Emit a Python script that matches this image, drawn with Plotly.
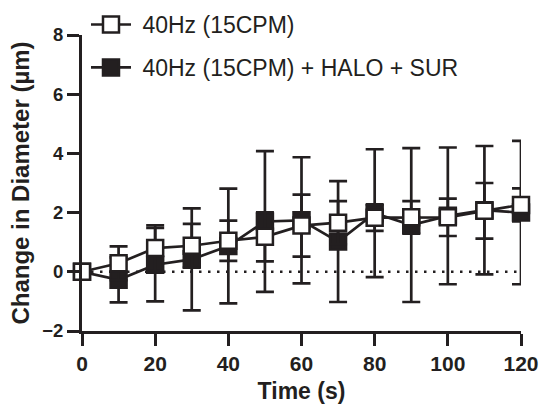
import plotly.graph_objects as go

# tiempos (s)
time_s = [0, 10, 20, 30, 40, 50, 60, 70, 80, 90, 100, 110, 120]

# 40Hz (15CPM)
open_mean = [0, 0.29, 0.80, 0.88, 1.05, 1.18, 1.56, 1.66, 1.83, 1.84, 1.84, 2.06, 2.26]
open_err = [0, 0.57, 0.77, 0.74, 0.68, 0.83, 1.05, 0.73, 0.45, 0.55, 0.63, 0.94, 0.56]

# 40Hz (15CPM) + HALO + SUR
halo_mean = [0, -0.27, 0.24, 0.42, 0.87, 1.70, 1.74, 1.02, 1.98, 1.58, 1.89, 2.08, 2.00]
halo_err = [0, 0.76, 1.24, 1.72, 1.94, 2.38, 2.13, 2.04, 2.16, 2.60, 2.31, 2.17, 2.42]

INK = "#231f20"
FONT = "Liberation Sans"
PAD = "\u00a0"  # separa el texto de la leyenda del simbolo

fig = go.Figure()

# linea de referencia en y = 0
fig.add_trace(go.Scatter(
    x=[time_s[0], time_s[-1]], y=[0, 0],
    mode="lines",
    line=dict(color=INK, width=2.5, dash="2.5px,6.5px"),
    showlegend=False, hoverinfo="skip"
))

fig.add_trace(go.Scatter(
    x=time_s, y=halo_mean,
    mode="lines+markers",
    name=PAD + "40Hz (15CPM) + HALO + SUR",
    legendgroup="b", legendrank=2,
    line=dict(color=INK, width=2.7),
    marker=dict(symbol="square", size=16, color=INK, line=dict(color=INK, width=2.5)),
    error_y=dict(type="data", array=halo_err, color=INK, thickness=2.7, width=9),
    cliponaxis=False
))

fig.add_trace(go.Scatter(
    x=time_s, y=open_mean,
    mode="lines+markers",
    name=PAD + "40Hz (15CPM)",
    legendgroup="a", legendrank=1,
    line=dict(color=INK, width=2.7),
    marker=dict(symbol="square", size=16, color="white", line=dict(color=INK, width=2.5)),
    error_y=dict(type="data", array=open_err, color=INK, thickness=2.7, width=9),
    cliponaxis=False
))

axis_common = dict(
    showline=True, linecolor=INK, linewidth=3,
    ticks="outside", tickcolor=INK, tickwidth=3, ticklen=12,
    showgrid=False, zeroline=False, automargin=False,
)

fig.update_layout(
    width=542, height=408,
    margin=dict(l=82, r=21, t=35, b=77, autoexpand=False),
    plot_bgcolor="white", paper_bgcolor="white",
    font=dict(family=FONT, color=INK),
    xaxis=dict(
        range=[0, 120], tickvals=[0, 20, 40, 60, 80, 100, 120],
        tickfont=dict(family=FONT, size=21, weight="bold", color=INK),
        title=dict(text="Time (s)", font=dict(family=FONT, size=23, weight="bold", color=INK), standoff=9),
        **axis_common
    ),
    yaxis=dict(
        range=[-2, 8], tickvals=[-2, 0, 2, 4, 6, 8],
        tickfont=dict(family=FONT, size=18.5, weight="bold", color=INK),
        title=dict(text="Change in Diameter (µm)", font=dict(family=FONT, size=24, weight="bold", color=INK), standoff=6),
        **axis_common
    ),
    legend=dict(
        x=0.0091, y=1.108, xanchor="left", yanchor="top",
        bgcolor="rgba(0,0,0,0)", borderwidth=0,
        font=dict(family=FONT, size=23, color=INK),
        tracegroupgap=10, itemwidth=40,
    ),
)

fig.write_html("out.html", config={"displayModeBar": False},
               post_script="document.body.style.margin='0';")
